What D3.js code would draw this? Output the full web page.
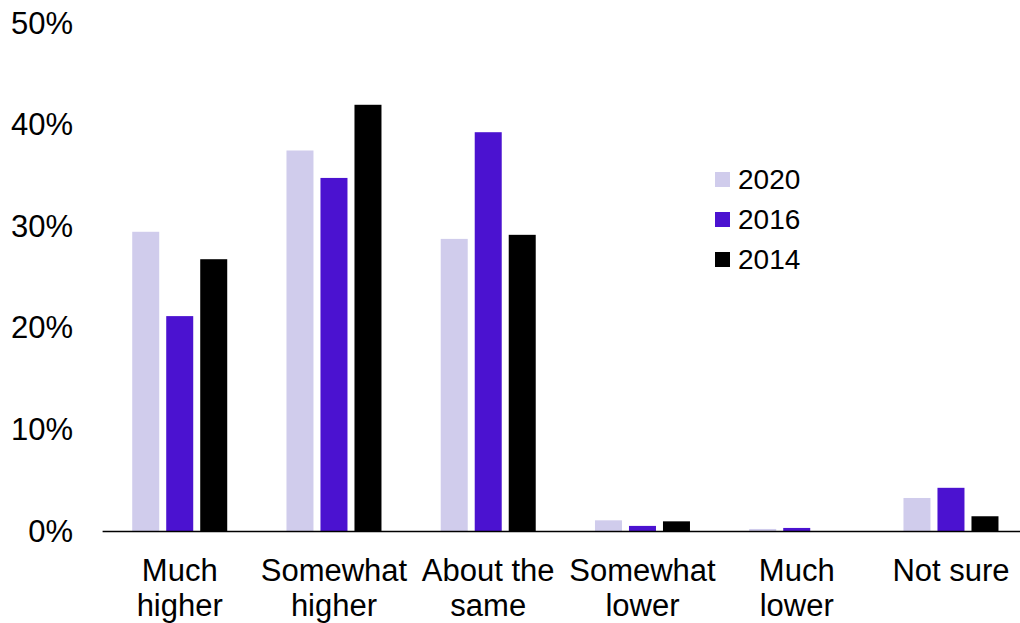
<!DOCTYPE html>
<html>
<head>
<meta charset="utf-8">
<script src="https://cdn.jsdelivr.net/npm/d3@7"></script>
<style>
  html, body { margin: 0; padding: 0; background: #fff; }
  svg text { font-family: "Liberation Sans", Arial, sans-serif; fill: #000; }
</style>
</head>
<body>
<svg id="chart" width="1020" height="623"></svg>
<script>
// Response categories (each label split into two lines)
const categories = [
  ["Much", "higher"],
  ["Somewhat", "higher"],
  ["About the", "same"],
  ["Somewhat", "lower"],
  ["Much", "lower"],
  ["Not sure", ""]
];
const seriesNames = ["2020", "2016", "2014"];
const values2020 = [29.5, 37.5, 28.8, 1.1, 0.25, 3.3];
const values2016 = [21.2, 34.8, 39.3, 0.55, 0.35, 4.3];
const values2014 = [26.8, 42.0, 29.2, 1.0, 0.0, 1.5];
const seriesColors = ["#d0ccec", "#4b12d0", "#000000"];
const yTicks = [0, 10, 20, 30, 40, 50];

const series = [values2020, values2016, values2014];
const svg = d3.select("#chart");

const x0 = 102.6, x1 = 1028.1, yBase = 531.5, yTop = 23.5;

const x = d3.scaleBand()
  .domain(d3.range(categories.length))
  .range([x0, x1])
  .paddingInner(0)
  .paddingOuter(0);

const y = d3.scaleLinear().domain([0, 50]).range([yBase, yTop]);

// Bars within each category band
const barW = 27, gap = 7;
const offset = i => (i - 1) * (barW + gap) - barW / 2;

const g = svg.append("g");
series.forEach((vals, si) => {
  g.selectAll(null)
    .data(vals)
    .enter()
    .append("rect")
    .attr("x", (d, ci) => x(ci) + x.bandwidth() / 2 + offset(si))
    .attr("y", d => y(d))
    .attr("width", barW)
    .attr("height", d => yBase - y(d))
    .attr("fill", seriesColors[si]);
});

// Y axis tick labels (no axis line)
const yAxis = d3.axisLeft(y)
  .tickValues(yTicks)
  .tickFormat(d => d + "%")
  .tickSize(0)
  .tickPadding(0);
const ya = svg.append("g").attr("transform", "translate(73,0)").call(yAxis);
ya.select(".domain").remove();
ya.selectAll("text")
  .attr("font-size", 31)
  .attr("font-family", "Liberation Sans, Arial, sans-serif")
  .attr("fill", "#000")
  .attr("dy", "0.31em");

// Baseline
svg.append("line")
  .attr("x1", x0).attr("x2", 1020)
  .attr("y1", yBase).attr("y2", yBase)
  .attr("stroke", "#000").attr("stroke-width", 1.6);

// Category labels
const cat = svg.append("g");
categories.forEach((lines, ci) => {
  const cx = x(ci) + x.bandwidth() / 2;
  const t = cat.append("text")
    .attr("text-anchor", "middle")
    .attr("font-size", 31)
    .attr("x", cx);
  lines.forEach((ln, li) => {
    if (!ln) return;
    t.append("tspan")
      .attr("x", cx)
      .attr("y", 580.5 + li * 35.5)
      .text(ln);
  });
});

// Legend
const leg = svg.append("g").attr("transform", "translate(715,0)");
seriesNames.forEach((name, i) => {
  const cy = 179 + i * 40;
  leg.append("rect")
    .attr("x", 0).attr("y", cy - 7)
    .attr("width", 15).attr("height", 15)
    .attr("fill", seriesColors[i]);
  leg.append("text")
    .attr("x", 23).attr("y", cy)
    .attr("dy", "0.35em")
    .attr("font-size", 28)
    .text(name);
});
</script>
</body>
</html>
